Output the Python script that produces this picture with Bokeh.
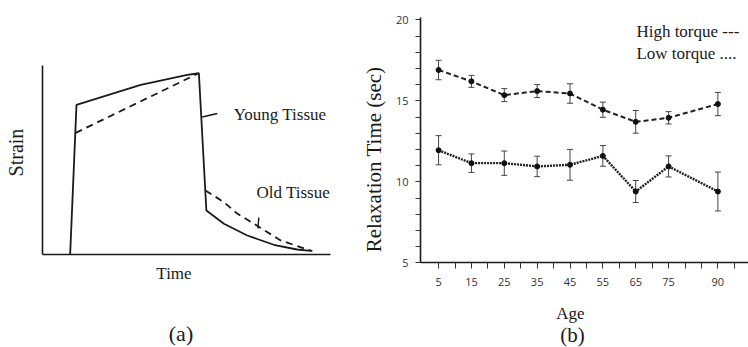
import math
from bokeh.plotting import figure
from bokeh.layouts import row
from bokeh.models import (ColumnDataSource, FixedTicker, Label, Whisker, TeeHead,
                          Range1d, LinearAxis)
from bokeh.embed import file_html
from bokeh.resources import INLINE

# ---------------- data: panel (a) schematic ----------------
young_time = [0.96, 1.18, 3.41, 5.03, 5.43, 5.69, 6.30, 7.11, 8.03, 8.84, 9.31]
young_strain = [0.0, 0.792, 0.898, 0.951, 0.959, 0.234, 0.164, 0.102, 0.053, 0.028, 0.021]
old_load_time = [1.15, 5.38]
old_load_strain = [0.644, 0.956]
old_unload_time = [5.66, 6.30, 6.77, 7.34, 8.27, 9.19, 9.37]
old_unload_strain = [0.340, 0.278, 0.217, 0.164, 0.076, 0.028, 0.020]
young_leader_t = [5.55, 6.07]
young_leader_s = [0.728, 0.746]
old_leader_t = [7.51, 7.48]
old_leader_s = [0.197, 0.139]

# ---------------- data: panel (b) ----------------
ages = [5, 15, 25, 35, 45, 55, 65, 75, 90]
high_torque = [16.9, 16.2, 15.35, 15.6, 15.45, 14.45, 13.7, 13.95, 14.8]
high_err = [0.6, 0.37, 0.4, 0.4, 0.6, 0.47, 0.7, 0.38, 0.72]
low_torque = [11.95, 11.15, 11.15, 10.95, 11.05, 11.6, 9.4, 10.95, 9.4]
low_err = [0.9, 0.57, 0.75, 0.63, 0.95, 0.64, 0.68, 0.65, 1.2]
age_labels = [5, 15, 25, 35, 45, 55, 65, 75, 90]
age_minor = [10, 20, 30, 40, 50, 60, 70, 80, 85, 95]
y_labels = [5, 10, 15, 20]
y_minor = [v for v in range(6, 20) if v % 5 != 0]

SERIF = "Liberation Serif"
SANS = "Open Sans"
INK = "#1a1a1a"
H = 347


def lab(p, x, y, text, size, align="left", angle=0.0):
    p.add_layout(Label(x=x, y=y, text=text, text_font=SERIF, text_font_size=size,
                       text_align=align, text_baseline="middle", angle=angle,
                       text_color=INK))


# ================= panel (a) =================
# whole canvas is the frame; time 0 at x=42px (28.8 px/unit), strain 0 at y=254.3px (189.3 px/unit)
WA = 355
fa = figure(width=WA, height=H, output_backend="svg", toolbar_location=None, title=None,
            x_axis_location=None, y_axis_location=None,
            x_range=Range1d(-42 / 28.8, (WA - 42) / 28.8),
            y_range=Range1d(-(H - 254.3) / 189.3, 254.3 / 189.3),
            min_border=0)
fa.outline_line_color = None
fa.xgrid.visible = False
fa.ygrid.visible = False

ax_t = LinearAxis(fixed_location=0, bounds=(0, 10), ticker=FixedTicker(ticks=[]))
ax_s = LinearAxis(fixed_location=0, bounds=(0, 1), ticker=FixedTicker(ticks=[]))
for ax in (ax_t, ax_s):
    ax.major_tick_line_color = None
    ax.minor_tick_line_color = None
    ax.major_label_text_font_size = "0px"
    ax.axis_line_color = INK
    ax.axis_line_width = 1.6
fa.add_layout(ax_t, "below")
fa.add_layout(ax_s, "left")

fa.line(young_time, young_strain, line_color=INK, line_width=1.8)
fa.line(old_load_time, old_load_strain, line_color=INK, line_width=1.8, line_dash="7 5")
fa.line(old_unload_time, old_unload_strain, line_color=INK, line_width=1.8, line_dash="7 5")
fa.line(young_leader_t, young_leader_s, line_color=INK, line_width=1.6)
fa.line(old_leader_t, old_leader_s, line_color=INK, line_width=1.4)

lab(fa, 6.64, 0.741, "Young Tissue", "17px")
lab(fa, 7.43, 0.331, "Old Tissue", "17px")
lab(fa, -0.9375, 0.540, "Strain", "20px", align="center", angle=math.pi / 2)
lab(fa, 4.566, -0.099, "Time", "17px", align="center")
lab(fa, 4.809, -0.416, "(a)", "22px", align="center")

# ================= panel (b) =================
# canvas starts at page x=355; age -0.5 at x=420 (3.286 px/yr); value 5 at y=262.3 (16.2 px/unit)
WB = 748 - WA
fb = figure(width=WB, height=H, output_backend="svg", toolbar_location=None, title=None,
            x_axis_location=None, y_axis_location=None,
            x_range=Range1d(-0.5 - 65 / 3.286, -0.5 + (WB - 65) / 3.286),
            y_range=Range1d(5 - (H - 262.3) / 16.2, 20 + 19.3 / 16.2),
            min_border=0)
fb.outline_line_color = None
fb.xgrid.visible = False
fb.ygrid.visible = False

xa = LinearAxis(fixed_location=5, bounds=(-0.5, 100),
                ticker=FixedTicker(ticks=age_labels, minor_ticks=age_minor))
ya = LinearAxis(fixed_location=-0.5, bounds=(5, 20.15),
                ticker=FixedTicker(ticks=y_labels, minor_ticks=y_minor))
for ax in (xa, ya):
    ax.axis_line_color = INK
    ax.axis_line_width = 1.6
    ax.major_tick_line_color = "#333333"
    ax.minor_tick_line_color = "#333333"
    ax.major_tick_line_width = 1
    ax.minor_tick_line_width = 1
    ax.major_label_text_font = SANS
    ax.major_label_text_font_size = "11px"
    ax.major_label_text_color = "#333333"
xa.major_tick_in = 0
xa.major_tick_out = 6
xa.minor_tick_in = 0
xa.minor_tick_out = 6
xa.major_label_standoff = 9
ya.major_tick_in = 0
ya.major_tick_out = 5
ya.minor_tick_in = 0
ya.minor_tick_out = 5
ya.major_label_standoff = 7
fb.add_layout(xa, "below")
fb.add_layout(ya, "left")

hi_src = ColumnDataSource(dict(age=ages, val=high_torque,
                               up=[v + e for v, e in zip(high_torque, high_err)],
                               lo=[v - e for v, e in zip(high_torque, high_err)]))
lo_src = ColumnDataSource(dict(age=ages, val=low_torque,
                               up=[v + e for v, e in zip(low_torque, low_err)],
                               lo=[v - e for v, e in zip(low_torque, low_err)]))

for src in (hi_src, lo_src):
    fb.add_layout(Whisker(base="age", upper="up", lower="lo", source=src,
                          line_color="#444444", line_width=1,
                          upper_head=TeeHead(size=6, line_color="#444444", line_width=1),
                          lower_head=TeeHead(size=6, line_color="#444444", line_width=1)))

fb.line("age", "val", source=hi_src, line_color="#222222", line_width=2, line_dash="5 3")
fb.line("age", "val", source=lo_src, line_color="#222222", line_width=2.4, line_dash="2 1")
fb.scatter("age", "val", source=hi_src, size=5, color="#111111")
fb.scatter("age", "val", source=lo_src, size=5, color="#111111")

lab(fb, 65.2, 19.3, "High torque ---", "17px")
lab(fb, 65.2, 17.95, "Low torque ....", "17px")
lab(fb, -14.5, 11.38, "Relaxation Time (sec)", "21px", align="center", angle=math.pi / 2)
lab(fb, 45.15, 1.87, "Age", "17px", align="center")
lab(fb, 45.76, 0.55, "(b)", "21px", align="center")

layout = row(fa, fb)
open("out.html", "w").write(file_html(layout, INLINE))
